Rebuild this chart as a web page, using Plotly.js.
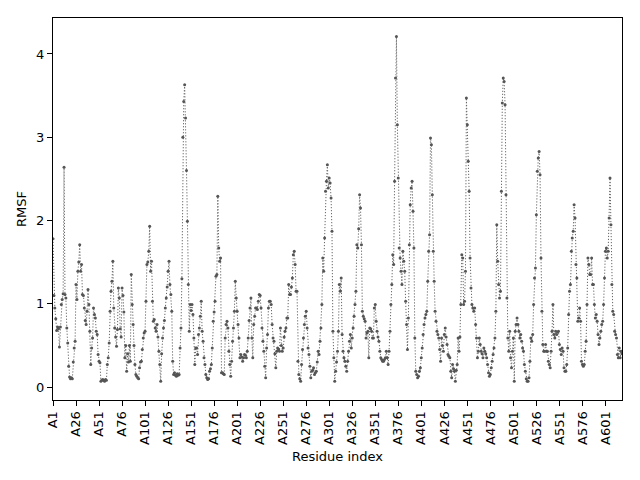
<!DOCTYPE html>
<html>
<head>
<meta charset="utf-8">
<script src="https://cdn.plot.ly/plotly-3.0.1.min.js"></script>
<style>html,body{margin:0;padding:0;background:#fff;}#chart{width:640px;height:480px;}</style>
</head>
<body>
<div id="chart"></div>
<script>
// RMSF per residue (A1..A619)
const rmsf = [
1.78,1.10,0.95,0.82,0.68,0.72,0.70,0.48,0.72,0.99,
1.05,1.12,2.64,1.11,1.07,0.71,0.53,0.25,0.12,0.10,
0.11,0.10,0.30,0.47,0.55,1.23,1.05,1.39,1.50,1.71,
1.39,1.47,1.11,1.10,0.95,0.80,0.75,0.91,1.17,0.99,
0.67,0.27,0.47,0.59,0.95,0.87,0.83,0.67,0.63,0.39,
0.31,0.29,0.07,0.08,0.09,0.08,0.07,0.09,0.08,0.27,
0.35,0.53,0.91,1.15,1.27,1.51,0.95,0.71,0.60,0.49,
0.69,1.19,1.07,0.70,0.60,1.19,1.10,0.90,0.35,0.50,
0.19,0.40,0.30,0.50,0.31,1.35,0.99,0.75,0.50,0.27,
0.15,0.13,0.11,0.10,0.23,0.30,0.31,0.45,0.59,0.65,
0.67,1.03,1.47,1.50,1.63,1.93,1.39,1.51,1.03,0.79,
0.81,0.71,0.67,0.75,0.60,0.43,0.27,0.07,0.40,0.59,
0.71,0.80,0.95,1.07,1.20,1.39,1.51,1.23,1.11,0.91,
0.31,0.15,0.17,0.14,0.13,0.16,0.14,0.15,0.47,0.71,
1.30,3.00,3.43,3.63,3.23,2.60,1.99,1.23,0.67,0.99,
0.92,0.99,0.87,0.59,0.27,0.47,0.47,0.39,0.63,0.71,
0.85,1.03,0.67,0.55,0.35,0.27,0.15,0.11,0.09,0.10,
0.19,0.22,0.27,0.47,0.79,0.90,1.03,1.33,1.35,2.29,
1.67,1.51,1.55,0.17,0.17,0.16,0.15,0.59,0.75,0.79,
0.71,0.43,0.27,0.13,0.31,0.55,0.71,0.91,1.27,1.07,
0.91,0.75,0.59,0.35,0.39,0.36,0.31,0.35,0.39,0.38,
0.35,0.43,0.59,0.80,0.95,1.07,0.59,0.35,0.75,0.85,
0.95,0.95,0.93,1.03,1.11,1.10,0.95,0.71,0.55,0.43,
0.25,0.11,0.47,0.63,0.95,1.03,1.03,0.99,0.75,0.59,
0.55,0.40,0.23,0.43,0.47,0.45,0.43,0.71,0.50,0.43,
0.47,0.60,0.67,0.71,0.83,0.83,1.23,1.11,1.11,1.20,
1.31,1.59,1.63,1.47,1.15,1.15,0.31,0.15,0.10,0.07,
0.27,0.45,0.59,0.75,0.85,0.91,0.71,0.47,0.39,0.25,
0.11,0.19,0.20,0.23,0.15,0.17,0.19,0.30,0.43,0.39,
0.55,0.71,0.99,1.55,1.39,1.79,2.35,2.47,2.67,2.39,
2.51,2.45,2.27,1.87,0.67,0.35,0.07,0.19,0.30,0.43,
0.67,1.23,1.15,1.31,0.63,0.43,0.35,0.31,0.25,0.19,
0.31,0.43,0.55,0.63,0.47,0.59,0.71,0.85,0.99,1.15,
1.71,1.67,1.90,2.31,2.15,1.71,0.91,0.85,0.82,0.79,
0.59,0.65,0.67,0.35,0.71,0.70,0.67,0.59,0.59,0.95,
0.99,0.79,0.67,0.60,0.55,0.43,0.35,0.33,0.31,0.31,
0.33,0.35,0.43,0.35,0.27,0.43,0.67,0.99,1.23,1.59,
1.47,2.47,3.71,4.21,3.15,2.51,1.67,1.55,1.39,1.23,
1.63,1.51,1.39,1.03,0.75,0.45,0.83,1.71,2.19,2.39,
2.47,2.11,1.67,0.59,0.19,0.15,0.11,0.13,0.19,0.23,
0.35,0.47,0.63,0.75,0.83,0.87,0.91,1.27,1.63,1.83,
2.99,2.91,2.31,1.63,1.27,0.91,0.79,0.67,0.63,0.59,
0.45,0.31,0.59,0.50,0.43,0.63,0.71,0.60,0.51,0.39,
0.37,0.35,0.19,0.11,0.27,0.22,0.19,0.07,0.20,0.27,
0.59,0.43,0.60,0.99,1.59,1.55,0.99,1.03,1.39,3.47,
3.15,2.71,2.35,1.55,1.19,0.99,0.95,0.91,0.95,0.75,
0.59,0.35,0.43,0.59,0.51,0.43,0.40,0.35,0.47,0.43,
0.40,0.35,0.27,0.17,0.13,0.15,0.23,0.31,0.39,0.47,
0.59,0.91,1.95,1.51,1.23,1.07,1.15,2.35,3.41,3.71,
3.67,3.39,2.31,1.07,0.59,0.43,0.67,0.35,0.23,0.43,
0.59,0.07,0.67,0.75,0.83,0.75,0.67,0.59,0.63,0.55,
0.47,0.43,0.27,0.19,0.10,0.07,0.07,0.11,0.31,0.59,
0.55,0.63,0.99,1.31,1.43,2.07,2.59,2.75,2.83,2.55,
1.55,0.91,0.51,0.43,0.43,0.51,0.43,0.43,0.31,0.27,
0.23,0.43,0.67,0.99,0.63,0.59,0.67,0.63,0.66,0.67,
0.51,0.45,0.39,0.47,0.43,0.23,0.19,0.19,0.27,0.47,
0.87,1.15,1.23,1.63,1.79,1.87,2.19,2.03,1.47,1.31,
0.79,0.83,0.95,0.79,0.31,0.27,0.25,0.27,0.43,0.55,
0.99,1.55,1.47,1.35,1.35,1.55,1.23,1.23,0.99,0.83,
0.87,0.79,0.63,0.51,0.59,0.67,0.75,0.79,0.99,1.31,
1.63,1.67,1.55,1.63,2.03,2.51,1.95,1.23,0.91,0.87,
0.67,0.63,0.59,0.39,0.35,0.47,0.35,0.43,0.40
];
const chain = 'A';
const residues = rmsf.map((v, i) => chain + (i + 1));
const tickLabels = ['A1','A26','A51','A76','A101','A126','A151','A176','A201','A226',
  'A251','A276','A301','A326','A351','A376','A401','A426','A451','A476',
  'A501','A526','A551','A576','A601'];

const trace = {
  x: residues,
  y: rmsf,
  type: 'scatter',
  mode: 'lines+markers',
  line: {color: '#666666', width: 1, dash: '1.2px,1.8px'},
  marker: {color: '#555555', size: 3},
  hoverinfo: 'x+y'
};

const font = {family: 'DejaVu Sans, sans-serif', size: 13, color: '#000'};
const layout = {
  width: 640, height: 480,
  margin: {l: 53, r: 18, t: 18, b: 80},
  paper_bgcolor: '#fff', plot_bgcolor: '#fff',
  showlegend: false,
  font: font,
  xaxis: {
    type: 'category',
    range: [0, rmsf.length - 1],
    tickmode: 'array',
    tickvals: tickLabels,
    ticktext: tickLabels,
    tickangle: -90,
    ticks: 'outside', ticklen: 5, tickcolor: '#000', tickwidth: 1,
    showline: true, linecolor: '#000', linewidth: 1, mirror: true,
    showgrid: false, zeroline: false,
    tickfont: font,
    title: {text: 'Residue index', font: font, standoff: 7}
  },
  yaxis: {
    range: [-0.156, 4.432],
    tickvals: [0, 1, 2, 3, 4],
    ticks: 'outside', ticklen: 5, tickcolor: '#000', tickwidth: 1,
    showline: true, linecolor: '#000', linewidth: 1, mirror: true,
    showgrid: false, zeroline: false,
    tickfont: font,
    title: {text: 'RMSF', font: font, standoff: 6}
  }
};

Plotly.newPlot('chart', [trace], layout, {staticPlot: true, displayModeBar: false});
</script>
</body>
</html>
